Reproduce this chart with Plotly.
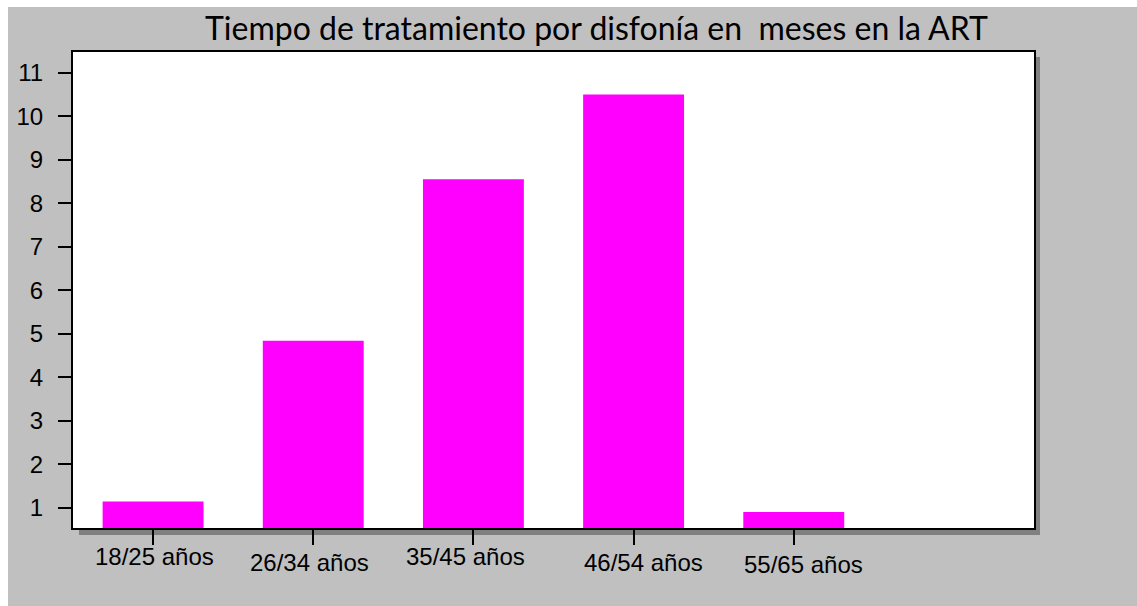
import plotly.graph_objects as go

# ---- data ----
categories = ["18/25 años", "26/34 años", "35/45 años", "46/54 años", "55/65 años"]
values = [1.14, 4.84, 8.55, 10.50, 0.90]
y_ticks = [1, 2, 3, 4, 5, 6, 7, 8, 9, 10, 11]
title_text = "Tiempo de tratamiento por disfonía en  meses en la ART"

# ---- layout geometry (pixels) ----
W, H = 1137, 606
L, R, T, B = 73, 1034, 52, 528
PW, PH = R - L, B - T


def px(xp):
    return (xp - L) / PW


def py(yp):
    return (B - yp) / PH


x_idx = list(range(len(categories)))

fig = go.Figure()
fig.add_trace(go.Bar(
    x=x_idx, y=values, width=0.63,
    marker=dict(color="#FF00FF", line=dict(width=0)),
    hoverinfo="skip", showlegend=False,
))

shapes = [
    # white strips at the top and left of the picture
    dict(type="rect", xref="paper", yref="paper", x0=px(-5), x1=px(W + 5), y0=py(7), y1=py(-5),
         fillcolor="white", line=dict(width=0), layer="below"),
    dict(type="rect", xref="paper", yref="paper", x0=px(-5), x1=px(8), y0=py(H + 5), y1=py(-5),
         fillcolor="white", line=dict(width=0), layer="below"),
    # drop shadow of the plot frame
    dict(type="rect", xref="paper", yref="paper", x0=px(R), x1=px(R + 6), y0=py(535), y1=py(T + 5),
         fillcolor="#808080", line=dict(width=0), layer="below"),
    dict(type="rect", xref="paper", yref="paper", x0=px(L + 6), x1=px(R + 6), y0=py(535), y1=py(B),
         fillcolor="#808080", line=dict(width=0), layer="below"),
]

label_dx = [1.6, -3.7, -7.8, 9.7, 9.7]
label_dy = [-28, -34, -28.7, -34, -36.7]
annotations = []
for i, lab in enumerate(categories):
    annotations.append(dict(
        x=x_idx[i], xref="x", y=0, yref="paper", text=lab, showarrow=False,
        xanchor="center", yanchor="middle", xshift=label_dx[i], yshift=label_dy[i],
        font=dict(family="Liberation Sans, Arial", size=24, color="black"),
    ))
annotations.append(dict(
    x=px(596), xref="paper", y=py(28), yref="paper", text=title_text, showarrow=False,
    xanchor="center", yanchor="middle",
    font=dict(family="Lato", size=32, color="black"),
))

fig.update_layout(
    width=W, height=H,
    margin=dict(l=L, r=W - R, t=T, b=H - B, pad=0),
    paper_bgcolor="#C0C0C0",
    plot_bgcolor="white",
    shapes=shapes,
    annotations=annotations,
    bargap=0.37,
)

fig.update_xaxes(
    range=[-0.5, 5.5], tickvals=x_idx, showticklabels=False,
    ticks="outside", ticklen=15, tickwidth=1.5, tickcolor="black",
    showline=True, linecolor="black", linewidth=2, mirror=True,
    showgrid=False, zeroline=False, fixedrange=True,
)
fig.update_yaxes(
    range=[0.533, 11.476], tickvals=y_ticks,
    ticks="outside", ticklen=13, tickwidth=1.5, tickcolor="black",
    ticklabelstandoff=10,
    tickfont=dict(family="Liberation Sans, Arial", size=24, color="black"),
    showline=True, linecolor="black", linewidth=2, mirror=True,
    showgrid=False, zeroline=False, fixedrange=True,
)

fig.write_html("out.html", config={"displayModeBar": False})
